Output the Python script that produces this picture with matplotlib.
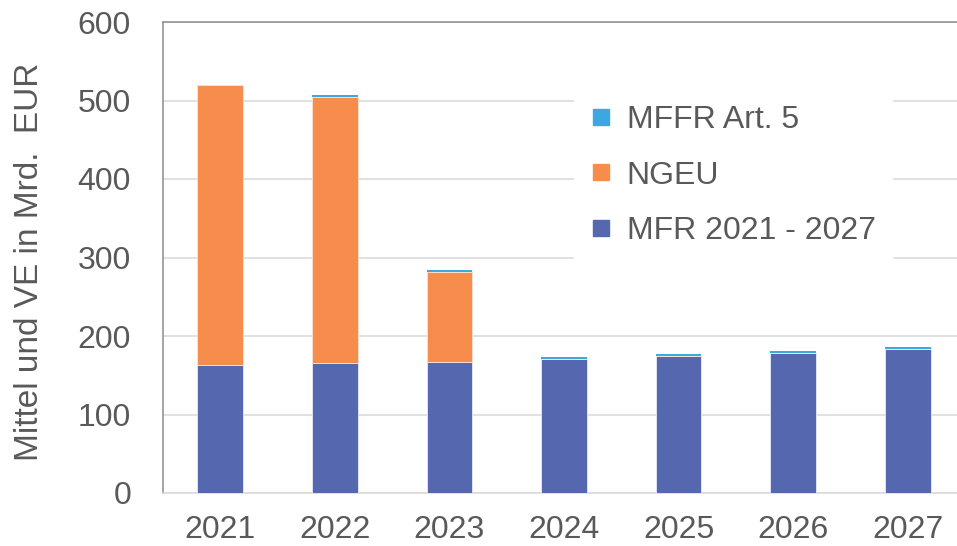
import numpy as np
import matplotlib.pyplot as plt
from matplotlib.lines import Line2D

plt.rcParams['font.family'] = ['Liberation Sans', 'DejaVu Sans']

# data (Mrd. EUR)
years = ['2021', '2022', '2023', '2024', '2025', '2026', '2027']
mfr = [163, 165, 167, 171, 174.5, 178.5, 184]
ngeu = [356.5, 340, 114, 0, 0, 0, 0]
mffr = [0, 2, 2.5, 2, 2.5, 2.5, 2.5]

c_mfr = '#5467AF'
c_ngeu = '#F78D4C'
c_mffr = '#3CA9DE'
txt = '#595959'

fig = plt.figure(figsize=(9.57, 5.46), dpi=100)
ax = fig.add_axes([163 / 957, 53 / 546, 802 / 957, 471 / 546])

x = np.arange(len(years))
w = 0.4
ax.bar(x, mfr, w, color=c_mfr, edgecolor='#E8ECF6', linewidth=0.6, zorder=3)
ax.bar(x, ngeu, w, bottom=mfr, color=c_ngeu, edgecolor='#FBE3D3', linewidth=0.6, zorder=3)
ax.bar(x, mffr, w, bottom=np.add(mfr, ngeu), color=c_mffr, linewidth=0, zorder=3)

ax.set_xlim(-0.5, len(years) - 0.5)
ax.set_ylim(0, 600)
ax.set_yticks(range(0, 601, 100))
ax.set_xticks(x)
ax.set_xticklabels(years)
ax.yaxis.grid(True, color='#D9D9D9', linewidth=1.1, zorder=0)
ax.set_axisbelow(True)

ax.tick_params(axis='both', length=0, labelsize=23, colors=txt)
ax.tick_params(axis='y', pad=23)
ax.tick_params(axis='x', pad=16)

ax.spines['left'].set_color('#8C8C8C')
ax.spines['top'].set_color('#8C8C8C')
ax.spines['bottom'].set_color('#D9D9D9')
ax.spines['right'].set_visible(False)
for s in ['left', 'top', 'bottom']:
    ax.spines[s].set_linewidth(1.1)

fig.text(0.031, 0.52, 'Mittel und VE in Mrd.  EUR', rotation=90,
         ha='center', va='center', fontsize=24, color=txt)

handles = [Line2D([], [], marker='s', linestyle='none', markersize=11.5, color=c)
           for c in (c_mffr, c_ngeu, c_mfr)]
labels = ['MFFR Art. 5', 'NGEU', 'MFR 2021 - 2027']
leg = ax.legend(handles, labels, loc='upper left',
                bbox_to_anchor=(574 / 957, 1 - 89 / 546),
                bbox_transform=fig.transFigure, fontsize=23,
                frameon=True, fancybox=False, framealpha=1,
                edgecolor='white', facecolor='white',
                handlelength=0.7, handletextpad=0.45,
                labelspacing=0.8, borderpad=0.5, borderaxespad=0)
for t in leg.get_texts():
    t.set_color(txt)
leg.set_zorder(5)

fig.savefig('out.png', dpi=100)
